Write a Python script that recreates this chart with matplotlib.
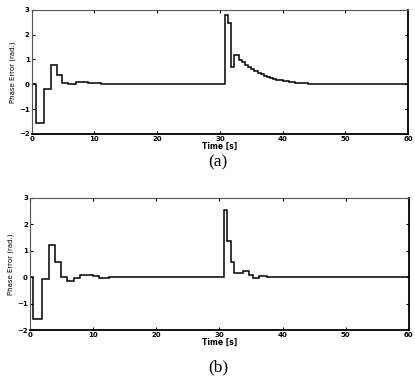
import numpy as np
import matplotlib.pyplot as plt

# ==============================
# DATA
# ==============================
# panel (a): step edges [s] and phase error per step [rad]
edges_a = [0, 0.65, 2.0, 3.0, 4.0, 4.85, 5.8, 7.0, 8.0, 9.0, 10.0, 11.0, 12.0,
           30.8, 31.3, 31.7, 32.3, 33.0, 33.5, 34.0, 34.5, 35.0, 35.5, 36.0,
           36.5, 37.0, 37.5, 38.0, 38.5, 39.0, 39.5, 40.0, 40.5, 41.0, 41.5,
           42.0, 42.5, 43.0, 43.5, 44.0, 44.5, 45.0, 45.5, 46.0, 47.0, 60.0]
err_a = [0.0, -1.58, -0.18, 0.77, 0.38, 0.05, 0.02, 0.09, 0.10, 0.06, 0.03, 0.01,
         0.0,
         2.77, 2.45, 0.70, 1.16, 0.97, 0.88, 0.79, 0.70, 0.62, 0.54, 0.47,
         0.41, 0.35, 0.30, 0.26, 0.22, 0.19, 0.16, 0.13, 0.11, 0.09, 0.075,
         0.06, 0.05, 0.04, 0.03, 0.025, 0.02, 0.015, 0.01, 0.006, 0.0]

# panel (b)
edges_b = [0, 0.55, 1.95, 2.95, 3.95, 4.85, 5.8, 6.95, 7.9, 10.0, 11.0, 12.5,
           15.0, 30.7, 31.2, 31.85, 32.3, 33.8, 34.7, 35.3, 36.3, 37.5, 38.5,
           41.0, 60.0]
err_b = [0.0, -1.57, -0.07, 1.20, 0.56, 0.0, -0.16, -0.03, 0.10, 0.05, -0.02,
         0.01, 0.0,
         2.52, 1.35, 0.56, 0.16, 0.25, 0.08, -0.02, 0.03, -0.01, 0.01, 0.0]

xticks = [0, 10, 20, 30, 40, 50, 60]
yticks = [-2, -1, 0, 1, 2, 3]

# ==============================
# PLOT
# ==============================
fig = plt.figure(figsize=(4.15, 3.76), dpi=100)
ax_a = fig.add_axes([0.0764, 0.644, 0.907, 0.330])
ax_b = fig.add_axes([0.0723, 0.122, 0.913, 0.352])

for ax, edges, err, tag, ty in [(ax_a, edges_a, err_a, "(a)", 0.568),
                                (ax_b, edges_b, err_b, "(b)", 0.022)]:
    ax.stairs(err, edges, color="black", linewidth=1.1, baseline=None)
    ax.set_xlim(0, 60)
    ax.set_ylim(-2, 3)
    ax.set_xticks(xticks)
    ax.set_yticks(yticks)
    ax.tick_params(direction="in", length=2.5, width=0.8, top=True, right=True,
                   labelsize=5, pad=1.5, colors="black")
    for lab in ax.get_xticklabels() + ax.get_yticklabels():
        lab.set_fontweight("bold")
    for s in ["top", "left"]:
        ax.spines[s].set_linewidth(0.8)
        ax.spines[s].set_color("#555555")
    for s in ["bottom", "right"]:
        ax.spines[s].set_linewidth(1.3)
    ax.set_xlabel("Time [s]", fontsize=5.5, labelpad=0, fontweight="bold")
    ax.set_ylabel("Phase Error (rad.)", fontsize=5, labelpad=2)
    fig.text(0.525, ty, tag, ha="center", va="center", fontsize=12.5,
             family="Liberation Serif")

plt.savefig("out.png", dpi=100)
